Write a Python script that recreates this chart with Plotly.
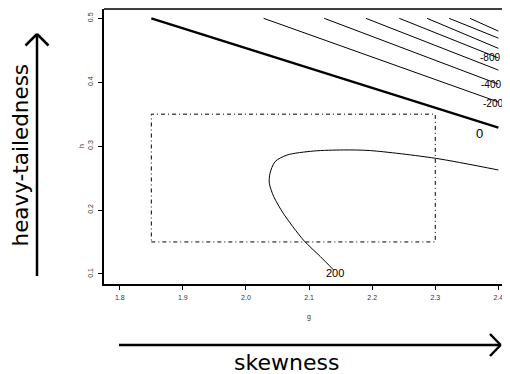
import plotly.graph_objects as go

# ---------------- data ----------------
# contour 0 (thick line)
zero_g = [1.85, 2.40]
zero_h = [0.500, 0.329]

# negative contours (thin straight lines): start at h=0.5, end at g=2.4
neg_start_g = [2.028, 2.124, 2.190, 2.243, 2.287, 2.322, 2.355]
neg_end_h = [0.369, 0.397, 0.419, 0.438, 0.453, 0.469, 0.480]
neg_top_h = 0.5
neg_end_g = 2.40

# contour 200 (curve)
c200_g = [2.139, 2.118, 2.091, 2.059, 2.044, 2.037, 2.038, 2.046, 2.065, 2.107,
          2.155, 2.197, 2.30, 2.40]
c200_h = [0.106, 0.127, 0.153, 0.195, 0.221, 0.242, 0.257, 0.2756, 0.286, 0.2923,
          0.294, 0.293, 0.281, 0.2626]

# region rectangle
rect_g = [1.85, 2.30]
rect_h = [0.15, 0.35]

# contour labels
lab_text = ["-800", "-400", "-200", "0", "200"]
lab_g = [2.386, 2.388, 2.391, 2.370, 2.141]
lab_h = [0.438, 0.397, 0.367, 0.319, 0.101]
lab_size = [10, 10, 10, 13, 11]

x_ticks = [1.8, 1.9, 2.0, 2.1, 2.2, 2.3, 2.4]
y_ticks = [0.1, 0.2, 0.3, 0.4, 0.5]

# ---------------- layout helpers ----------------
# the page body has an 8px margin, so figure pixel = page pixel - 8
OFF = 8
W, H = 510, 374
L, R, T, B = 96, 0, 1, 98
PW, PH = W - L - R, H - T - B


def xp(px):
    return (px - OFF - L) / PW


def yp(py):
    return (H - B - (py - OFF)) / PH


fig = go.Figure()

# negative contours
for sg, eh in zip(neg_start_g, neg_end_h):
    fig.add_trace(go.Scatter(x=[sg, neg_end_g], y=[neg_top_h, eh], mode="lines",
                             line=dict(color="black", width=1), showlegend=False,
                             hoverinfo="skip"))

# zero contour
fig.add_trace(go.Scatter(x=zero_g, y=zero_h, mode="lines",
                         line=dict(color="black", width=2.4), showlegend=False,
                         hoverinfo="skip"))

# 200 contour
fig.add_trace(go.Scatter(x=c200_g, y=c200_h, mode="lines",
                         line=dict(color="black", width=1, shape="spline", smoothing=0.8),
                         showlegend=False, hoverinfo="skip"))

# rectangle
fig.add_trace(go.Scatter(x=[rect_g[0], rect_g[1], rect_g[1], rect_g[0], rect_g[0]],
                         y=[rect_h[0], rect_h[0], rect_h[1], rect_h[1], rect_h[0]],
                         mode="lines",
                         line=dict(color="black", width=1, dash="4px,3px,1px,3px"),
                         showlegend=False, hoverinfo="skip"))

# contour labels
for t, g, h, s in zip(lab_text, lab_g, lab_h, lab_size):
    fig.add_annotation(x=g, y=h, xref="x", yref="y", text=t, showarrow=False,
                       font=dict(family="Liberation Sans, Arial", size=s, color="black"),
                       xanchor="center", yanchor="middle")

# axis titles
fig.add_annotation(x=xp(309), y=yp(317), xref="paper", yref="paper", text="g",
                   showarrow=False, font=dict(family="Liberation Sans", size=7, color="#333"),
                   xanchor="center", yanchor="middle")
fig.add_annotation(x=xp(81), y=yp(146), xref="paper", yref="paper", text="h",
                   showarrow=False, textangle=-90,
                   font=dict(family="Liberation Sans", size=7, color="#333"),
                   xanchor="center", yanchor="middle")

# big descriptive labels
fig.add_annotation(x=xp(286), y=yp(362), xref="paper", yref="paper", text="skewness",
                   showarrow=False, font=dict(family="DejaVu Sans", size=22, color="black"),
                   xanchor="center", yanchor="middle")
fig.add_annotation(x=xp(19.5), y=yp(155), xref="paper", yref="paper", text="heavy-tailedness",
                   showarrow=False, textangle=-90,
                   font=dict(family="DejaVu Sans", size=21.5, color="black"),
                   xanchor="center", yanchor="middle")

# arrows (outside the plot area)
arrow_line = dict(color="black", width=2.5)
shapes = [
    dict(type="line", xref="paper", yref="paper", x0=xp(119), y0=yp(345), x1=xp(500.5), y1=yp(345), line=arrow_line),
    dict(type="line", xref="paper", yref="paper", x0=xp(490), y0=yp(334), x1=xp(500.7), y1=yp(345), line=arrow_line),
    dict(type="line", xref="paper", yref="paper", x0=xp(490), y0=yp(356), x1=xp(500.7), y1=yp(345), line=arrow_line),
    dict(type="line", xref="paper", yref="paper", x0=xp(37), y0=yp(276), x1=xp(37), y1=yp(34.5), line=arrow_line),
    dict(type="line", xref="paper", yref="paper", x0=xp(25.5), y0=yp(45.5), x1=xp(37), y1=yp(34), line=arrow_line),
    dict(type="line", xref="paper", yref="paper", x0=xp(48.5), y0=yp(45.5), x1=xp(37), y1=yp(34), line=arrow_line),
    # top frame line
    dict(type="line", xref="paper", yref="paper", x0=0, y0=1, x1=1, y1=1,
         line=dict(color="black", width=1.5)),
]

fig.update_layout(
    width=W, height=H,
    margin=dict(l=L, r=R, t=T, b=B, pad=0),
    paper_bgcolor="white", plot_bgcolor="white",
    shapes=shapes,
    showlegend=False,
    xaxis=dict(range=[1.775, 1.775 + PW / 631.0], tickvals=x_ticks,
               ticktext=[f"{v:.1f}" for v in x_ticks],
               showgrid=False, zeroline=False, showline=True, linecolor="black", linewidth=1.5,
               ticks="outside", ticklen=4, tickwidth=1, tickcolor="black",
               tickfont=dict(family="Liberation Sans", size=7, color="#333"),
               ticklabelstandoff=2),
    yaxis=dict(range=[0.0842, 0.5146], tickvals=y_ticks,
               ticktext=[f"{v:.1f}" for v in y_ticks],
               showgrid=False, zeroline=False, showline=True, linecolor="black", linewidth=1.5,
               ticks="outside", ticklen=4, tickwidth=1, tickcolor="black", tickangle=-90,
               tickfont=dict(family="Liberation Sans", size=7, color="#333"),
               ticklabelstandoff=2),
)

fig.write_html("out.html")
